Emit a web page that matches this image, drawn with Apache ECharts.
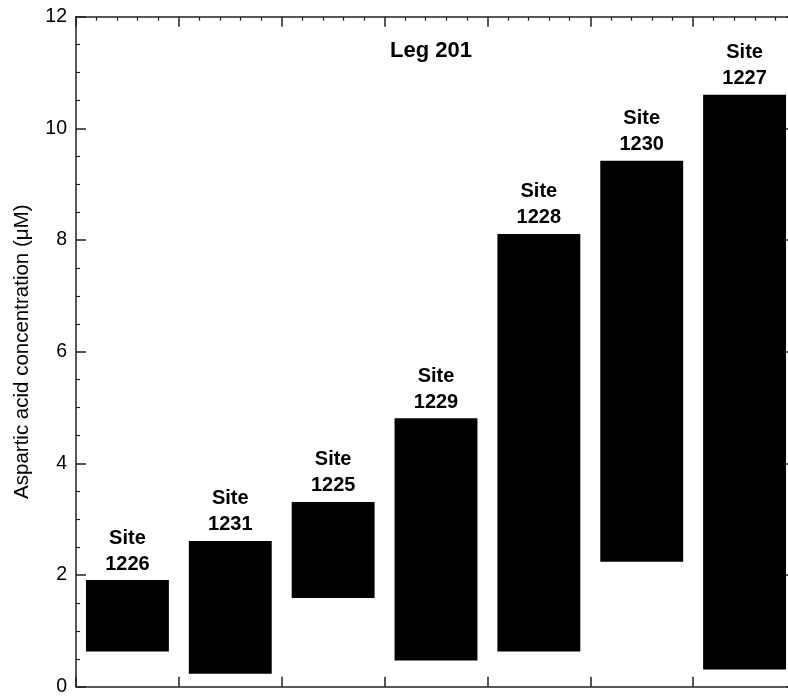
<!DOCTYPE html>
<html>
<head>
<meta charset="utf-8">
<script src="https://cdn.jsdelivr.net/npm/echarts@6/dist/echarts.min.js"></script>
<style>
html,body{margin:0;padding:0;background:#fff;}
#chart{width:788px;height:696px;}
</style>
</head>
<body>
<div id="chart"></div>
<script>
var sites = ['1226', '1231', '1225', '1229', '1228', '1230', '1227'];
var lowValues = [0.63, 0.23, 1.59, 0.47, 0.63, 2.24, 0.31];
var highValues = [1.91, 2.61, 3.31, 4.81, 8.11, 9.42, 10.6];
var yTicks = [0, 2, 4, 6, 8, 10, 12];

var FONT = '"Liberation Sans", Arial, Helvetica, sans-serif';
var AX = '#222';

var rangeValues = highValues.map(function (h, i) { return +(h - lowValues[i]).toFixed(3); });

var chart = echarts.init(document.getElementById('chart'));
chart.setOption({
  animation: false,
  backgroundColor: '#fff',
  grid: { left: 76, width: 720, top: 16.7, bottom: 9.3, containLabel: false, outerBoundsMode: 'none' },
  graphic: [{
    type: 'text', left: 435 - 45, top: 40,
    style: { text: 'Leg 201', font: 'bold 22px ' + FONT, fill: '#000' }
  }],
  xAxis: [{
    type: 'category', data: sites, position: 'bottom', boundaryGap: true,
    axisLine: { show: true, lineStyle: { color: AX, width: 1.5 } },
    axisTick: { show: true, inside: true, length: 10, lineStyle: { color: AX, width: 1.5 } },
    axisLabel: { show: false }, splitLine: { show: false }
  }, {
    type: 'value', position: 'top', min: 0, max: 7, interval: 1,
    axisLine: { show: true, onZero: false, lineStyle: { color: AX, width: 1.5 } },
    axisTick: { show: true, inside: true, length: 10, lineStyle: { color: AX, width: 1.5 } },
    minorTick: { show: true, splitNumber: 5, length: 4, lineStyle: { color: AX, width: 1.2 } },
    axisLabel: { show: false }, splitLine: { show: false }
  }],
  yAxis: [{
    type: 'value', min: 0, max: 12, interval: 2, position: 'left',
    name: 'Aspartic acid concentration (\u03bcM)', nameLocation: 'middle', nameGap: 43,
    nameTextStyle: { fontFamily: FONT, fontSize: 20.5, color: '#000' },
    axisLine: { show: true, lineStyle: { color: AX, width: 1.5 } },
    axisTick: { show: true, inside: true, length: 10, lineStyle: { color: AX, width: 1.5 } },
    minorTick: { show: true, splitNumber: 4, length: 4, lineStyle: { color: AX, width: 1.2 } },
    axisLabel: {
      fontFamily: FONT, fontSize: 19.5, color: '#000', margin: 9,
      formatter: function (v) { return yTicks.indexOf(v) >= 0 ? String(v) : ''; }
    },
    splitLine: { show: false }
  }, {
    type: 'value', min: 0, max: 12, interval: 2, position: 'right',
    axisLine: { show: true, lineStyle: { color: AX, width: 1.5 } },
    axisTick: { show: true, inside: true, length: 10, lineStyle: { color: AX, width: 1.5 } },
    minorTick: { show: true, splitNumber: 4, length: 4, lineStyle: { color: AX, width: 1.2 } },
    axisLabel: { show: false }, splitLine: { show: false }
  }],
  series: [{
    type: 'bar', stack: 'r', data: lowValues, barWidth: '80.6%',
    itemStyle: { color: 'rgba(0,0,0,0)' }, silent: true
  }, {
    type: 'bar', stack: 'r', data: rangeValues, barWidth: '80.6%',
    itemStyle: { color: '#000' },
    label: {
      show: true, position: 'top', distance: 3,
      formatter: function (p) { return 'Site\n' + p.name; },
      fontFamily: FONT, fontWeight: 'bold', fontSize: 20, lineHeight: 26, color: '#000', align: 'center'
    }
  }]
});
</script>
</body>
</html>
